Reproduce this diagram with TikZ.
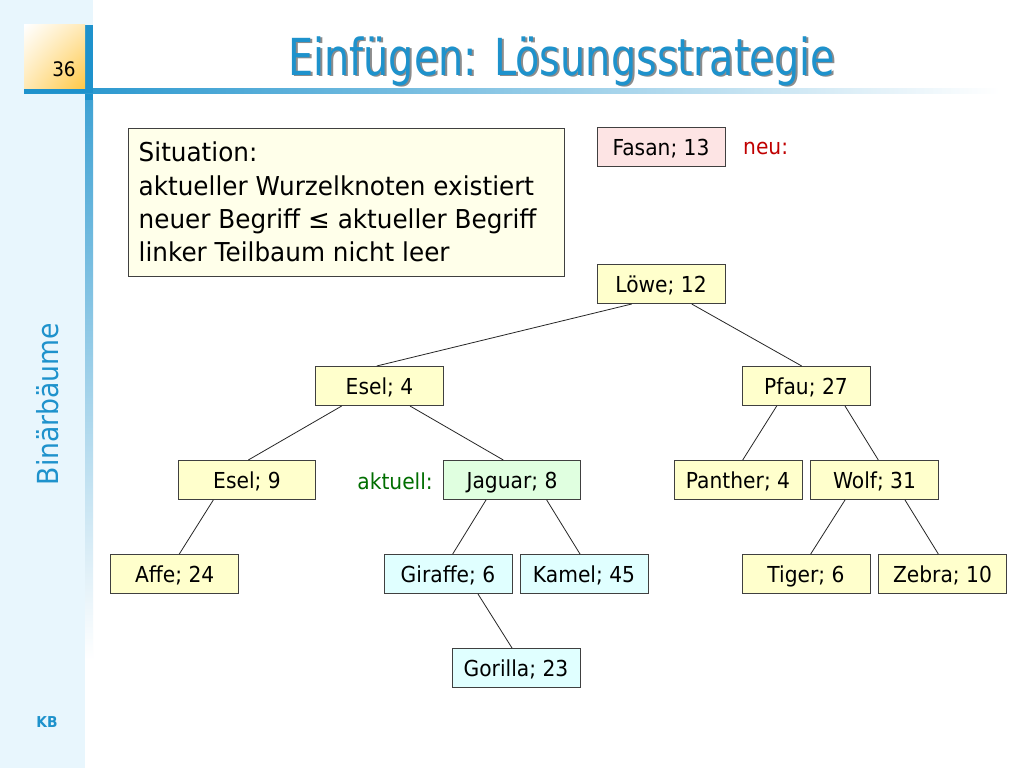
\documentclass[tikz,border=0pt]{standalone}
\usepackage{fontspec}
\usetikzlibrary{shadings}
\setmainfont{DejaVu Sans}[FakeStretch=0.92]
\newfontfamily\sitfont{DejaVu Sans}[FakeStretch=0.95]
\newfontfamily\titlefont{DejaVu Sans}[FakeStretch=0.78]
\newfontfamily\symfont{DejaVu Sans}
\definecolor{slideblue}{RGB}{30,146,204}
\definecolor{sidebg}{RGB}{232,246,253}
\definecolor{nodeyellow}{RGB}{255,255,204}
\definecolor{nodegreen}{RGB}{224,255,224}
\definecolor{nodecyan}{RGB}{224,255,255}
\definecolor{nodepink}{RGB}{253,228,228}
\definecolor{sitfill}{RGB}{255,255,234}
\definecolor{bordergray}{RGB}{64,64,64}
\definecolor{neured}{RGB}{192,0,0}
\definecolor{aktgreen}{RGB}{0,110,0}
\definecolor{boxorange}{RGB}{255,200,70}
\begin{document}
\begin{tikzpicture}[x=1pt,y=-1pt,
  treenode/.style={draw=bordergray, line width=1pt, minimum width=128pt, minimum height=39pt, inner sep=0pt, text height=18.5pt, text depth=1.5pt, font=\fontsize{22}{26}\selectfont},
  wide/.style={minimum width=137pt},
  yel/.style={treenode, fill=nodeyellow},
  grn/.style={treenode, fill=nodegreen},
  cyn/.style={treenode, fill=nodecyan},
  pnk/.style={treenode, fill=nodepink},
  edge/.style={draw=black!85, line width=0.8pt},
  lbl/.style={font=\fontsize{22}{26}\selectfont, inner sep=0pt}
]
\useasboundingbox (0,0) rectangle (1024,768);
\fill[white] (0,0) rectangle (1024,768);
% sidebar
\fill[sidebg] (0,0) rectangle (85,768);
\fill[sidebg] (85,0) rectangle (93,25);
% vertical bar
\fill[slideblue] (85,25) rectangle (93,100);
\shade[top color=slideblue!85, bottom color=white] (85,100) rectangle (93,660);
% horizontal bar
\shade[left color=slideblue, right color=white] (24,88) rectangle (1000,93);
\fill[slideblue] (24,88) rectangle (93,93);
% page number box
\shade[upper left=white, lower right=boxorange, upper right=boxorange!40!white, lower left=boxorange!40!white] (24,25) rectangle (85,88);
\node[font=\fontsize{20}{24}\selectfont, inner sep=0pt] (pagenum) at (64,69) {36};
% title
\node[font=\titlefont\fontsize{51}{60}\selectfont, text=black!45, anchor=base west, inner sep=0pt] (titleshadow) at (290,77) {Einfügen: Lösungsstrategie};
\node[font=\titlefont\fontsize{51}{60}\selectfont, text=slideblue, anchor=base west, inner sep=0pt] (title) at (288,75) {Einfügen: Lösungsstrategie};
% sidebar texts
\node[font=\fontsize{29}{34}\selectfont, text=slideblue, rotate=90, inner sep=0pt] (topic) at (48,404) {Binärbäume};
\node[font=\bfseries\fontsize{15}{18}\selectfont, text=slideblue, inner sep=0pt] (kb) at (47,722) {KB};
% situation box
\node[draw=bordergray, line width=1pt, fill=sitfill, minimum width=436pt, minimum height=148pt, anchor=north west, inner sep=0pt] (sit) at (127.5,127.5) {};
\node[anchor=north west, align=left, inner sep=0pt, font=\sitfont\fontsize{26}{33.2}\selectfont] (sittext) at (138.5,142) {Situation:\\aktueller Wurzelknoten existiert\\neuer Begriff {\symfont ≤} aktueller Begriff\\linker Teilbaum nicht leer};
% new node
\node[pnk] (fasan) at (661,147) {Fasan; 13};
\node[lbl, text=neured, anchor=west] (neu) at (743,148) {neu:};
% tree
\node[yel] (lowe) at (661,284) {Löwe; 12};
\node[yel] (esel4) at (379.5,386) {Esel; 4};
\node[yel] (pfau) at (806,386) {Pfau; 27};
\node[yel, wide] (esel9) at (247,480) {Esel; 9};
\node[grn, wide] (jaguar) at (512,480) {Jaguar; 8};
\node[lbl, text=aktgreen, anchor=east] (akt) at (433,481) {aktuell:};
\node[yel] (panther) at (738,480) {Panther; 4};
\node[yel] (wolf) at (874.5,480) {Wolf; 31};
\node[yel] (affe) at (174.7,574) {Affe; 24};
\node[cyn] (giraffe) at (448,574) {Giraffe; 6};
\node[cyn] (kamel) at (584,574) {Kamel; 45};
\node[yel] (tiger) at (806,574) {Tiger; 6};
\node[yel] (zebra) at (942.5,574) {Zebra; 10};
\node[cyn] (gorilla) at (516,668) {Gorilla; 23};
% edges
\draw[edge] ([xshift=-29.3pt]lowe.south) -- ([xshift=-2.8pt]esel4.north);
\draw[edge] ([xshift=30.7pt]lowe.south) -- ([xshift=-4.3pt]pfau.north);
\draw[edge] ([xshift=-37.8pt]esel4.south) -- ([xshift=1.3pt]esel9.north);
\draw[edge] ([xshift=30.5pt]esel4.south) -- ([xshift=-8.7pt]jaguar.north);
\draw[edge] ([xshift=-33.7pt]esel9.south) -- ([xshift=4.6pt]affe.north);
\draw[edge] ([xshift=-26pt]jaguar.south) -- ([xshift=4.7pt]giraffe.north);
\draw[edge] ([xshift=34.7pt]jaguar.south) -- ([xshift=-4pt]kamel.north);
\draw[edge] ([xshift=30pt]giraffe.south) -- ([xshift=-4pt]gorilla.north);
\draw[edge] ([xshift=-29.3pt]pfau.south) -- ([xshift=4.7pt]panther.north);
\draw[edge] ([xshift=39pt]pfau.south) -- ([xshift=3.8pt]wolf.north);
\draw[edge] ([xshift=-29.5pt]wolf.south) -- ([xshift=4.7pt]tiger.north);
\draw[edge] ([xshift=30.5pt]wolf.south) -- ([xshift=-4.2pt]zebra.north);
\end{tikzpicture}
\end{document}
